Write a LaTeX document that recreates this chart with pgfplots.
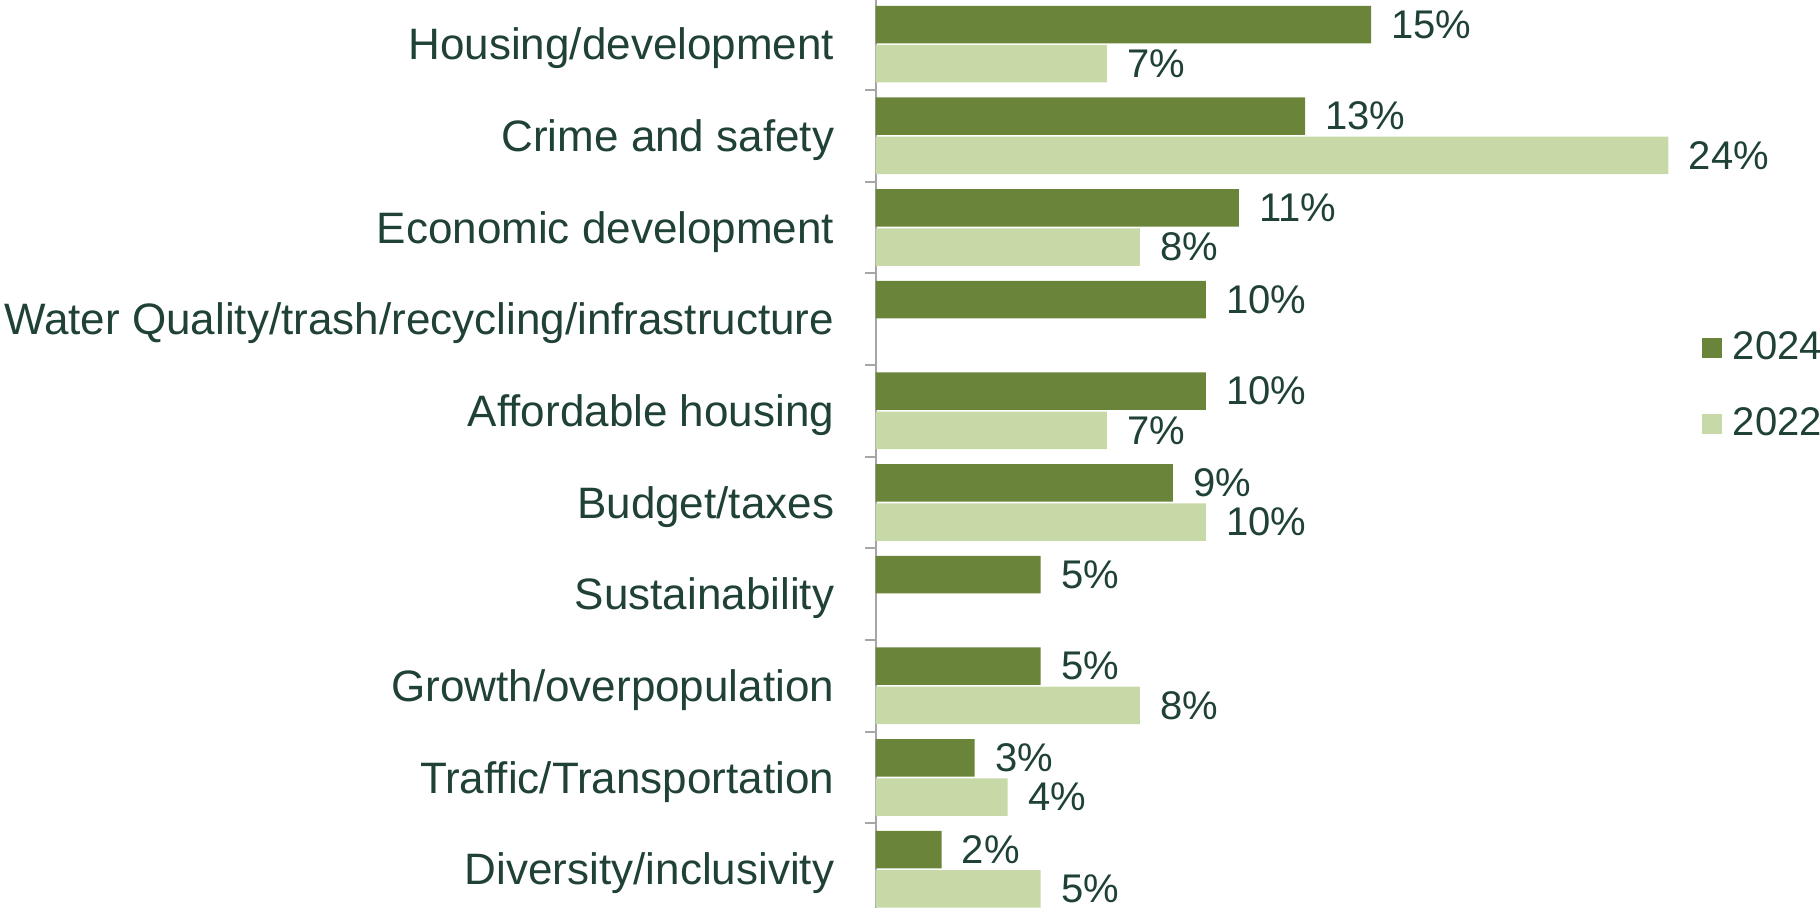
\documentclass[border=0pt]{standalone}
\usepackage{fontspec}
\setmainfont{Liberation Sans}
\usepackage{pgfplots}
\pgfplotsset{compat=1.18}
\definecolor{dk}{HTML}{6A8539}
\definecolor{lt}{HTML}{C8D9A8}
\definecolor{txt}{HTML}{1F4136}
\definecolor{axc}{HTML}{A6A6A6}
\newcommand{\ff}{\fontsize{22}{26}\selectfont}
\newcommand{\fv}{\fontsize{20}{24}\selectfont}
\begin{document}
\begin{tikzpicture}
\useasboundingbox (0pt,0pt) rectangle (910pt,454pt);
\begin{axis}[
  at={(437.75pt,-3.5pt)}, anchor=south west,
  width=413pt, height=458.35pt, scale only axis,
  xmin=0, xmax=25, ymin=-0.5, ymax=9.5, y dir=reverse,
  xbar, bar width=18.75pt,
  axis y line*=left, axis x line=none,
  axis line style={axc, line width=1pt},
  ytick={0,...,9},
  yticklabels={Housing/development,Crime and safety,Economic development,Water Quality/trash/recycling/infrastructure,Affordable housing,Budget/taxes,Sustainability,Growth/overpopulation,Traffic/Transportation,Diversity/inclusivity},
  major tick length=0pt,
  minor ytick={-0.5,0.5,...,9.5},
  minor tick length=5pt, tick align=outside,
  minor tick style={axc, line width=1pt},
  yticklabel style={anchor=base east, inner sep=0pt, xshift=-20.5pt, yshift=-7.9pt, font=\ff, text=txt},
  /pgf/number format/assume math mode=true,
  nodes near coords={\pgfmathprintnumber{\pgfplotspointmeta}\%},
  nodes near coords style={anchor=west, inner sep=0pt, xshift=10pt, font=\fv, text=txt},
  clip=false,
  legend image code/.code={\fill[#1] (0pt,-5.5pt) rectangle (10pt,4.5pt);},
  legend style={at={(1.0,0.578)}, anchor=west, draw=none, fill=none, inner sep=0pt,
    font=\fv, text=txt, row sep=18.5pt, cells={anchor=west},
    /tikz/every odd column/.append style={column sep=3.5pt}},
]
\addplot[fill=dk, draw=none, bar shift=9.8pt] coordinates {(15,0) (13,1) (11,2) (10,3) (10,4) (9,5) (5,6) (5,7) (3,8) (2,9)};
\addlegendentry{2024}
\addplot[fill=lt, draw=none, bar shift=-9.8pt] coordinates {(7,0) (24,1) (8,2) (7,4) (10,5) (8,7) (4,8) (5,9)};
\addlegendentry{2022}
\end{axis}
\end{tikzpicture}
\end{document}
